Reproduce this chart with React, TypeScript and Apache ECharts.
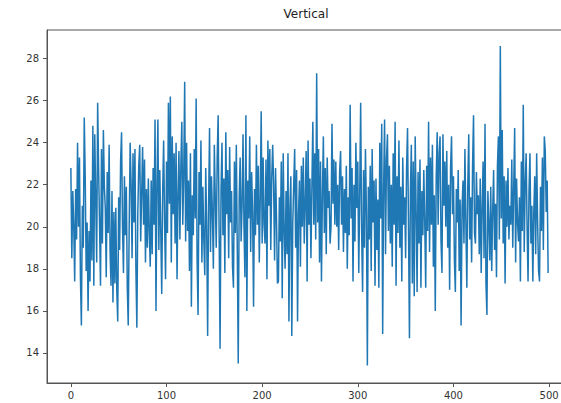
import React, { useEffect, useRef } from "react";
import * as echarts from "echarts";

const titleText = "Vertical";
const xTicks = [0, 100, 200, 300, 400, 500];
const yTicks = [14, 16, 18, 20, 22, 24, 26, 28];
const values = [
  22.8, 18.5, 21.7, 20.1, 17.4, 21.8, 19.4, 24.0, 20.0, 23.3,
  17.6, 15.3, 21.0, 19.0, 25.2, 22.4, 17.9, 20.2, 16.0, 19.8,
  17.4, 22.2, 18.4, 24.8, 17.2, 24.4, 21.3, 18.3, 25.9, 22.8,
  20.1, 17.2, 23.7, 19.2, 24.6, 21.9, 20.9, 17.6, 22.6, 19.7,
  23.9, 18.8, 17.2, 21.7, 16.4, 20.7, 17.3, 20.9, 17.0, 15.5,
  21.4, 18.9, 23.1, 24.5, 20.0, 17.8, 22.4, 19.6, 21.9, 17.1,
  15.3, 20.1, 24.0, 22.0, 18.5, 23.5, 20.2, 23.7, 18.0, 15.2,
  20.7, 22.9, 23.9, 19.3, 21.5, 23.8, 20.1, 23.2, 18.3, 21.8,
  19.0, 22.3, 19.8, 18.1, 22.2, 18.7, 22.8, 20.1, 25.1, 16.0,
  22.0, 25.1, 18.9, 22.7, 19.8, 16.8, 21.7, 24.1, 20.2, 17.5,
  23.1, 19.7, 25.9, 21.1, 26.2, 18.3, 24.3, 20.6, 23.5, 19.2,
  24.0, 17.5, 21.5, 23.6, 19.4, 22.9, 25.0, 20.1, 22.4, 26.9,
  19.3, 24.0, 19.8, 22.2, 17.9, 23.5, 16.2, 21.5, 19.6, 23.7,
  20.4, 26.1, 18.4, 15.8, 22.6, 20.1, 24.1, 18.3, 21.9, 19.4,
  17.7, 22.8, 20.0, 14.8, 21.0, 24.7, 18.8, 22.4, 20.7, 18.0,
  23.9, 21.3, 19.0, 23.3, 25.3, 19.8, 14.2, 21.8, 24.0, 19.6,
  22.3, 17.8, 24.5, 20.6, 22.7, 18.5, 23.8, 20.2, 21.7, 18.1,
  17.1, 23.1, 19.7, 23.9, 18.9, 13.5, 21.4, 23.3, 19.3, 21.0,
  24.4, 20.0, 17.6, 25.3, 16.0, 22.2, 20.4, 24.3, 18.8, 22.6,
  20.7, 16.2, 21.8, 19.6, 23.9, 20.1, 22.9, 18.3, 21.3, 25.5,
  19.2, 23.3, 20.1, 19.2, 23.2, 17.5, 24.1, 21.0, 23.7, 18.9,
  22.3, 23.9, 22.0, 18.4, 22.8, 20.4, 17.3, 17.4, 21.4, 19.3,
  23.1, 16.6, 23.5, 19.8, 18.0, 21.7, 18.7, 23.5, 15.5, 20.9,
  22.4, 14.8, 20.2, 22.0, 23.7, 19.0, 22.7, 15.5, 20.6, 22.2,
  18.1, 22.9, 20.0, 23.3, 19.2, 21.1, 23.6, 17.4, 24.1, 20.1,
  22.3, 18.5, 21.9, 25.0, 20.1, 23.5, 19.4, 27.3, 20.2, 23.7,
  18.3, 23.1, 17.4, 21.5, 24.3, 19.7, 22.8, 18.7, 23.3, 20.9,
  21.7, 19.2, 20.0, 24.9, 21.1, 23.2, 20.1, 23.1, 20.0, 22.0,
  18.9, 22.6, 23.6, 20.1, 22.4, 18.8, 21.8, 19.7, 22.9, 18.0,
  21.4, 19.6, 25.8, 20.4, 22.8, 17.4, 22.0, 19.3, 24.0, 20.9,
  23.1, 17.8, 21.5, 25.9, 19.8, 16.9, 22.7, 19.0, 23.7, 20.7,
  13.4, 21.9, 19.4, 22.9, 17.9, 23.7, 20.2, 22.2, 17.2, 22.3,
  18.9, 21.3, 17.1, 24.0, 20.4, 24.9, 14.9, 21.8, 25.1, 18.7,
  23.2, 24.4, 19.8, 22.9, 19.2, 22.0, 18.1, 23.5, 20.1, 25.0,
  17.2, 22.4, 19.7, 24.1, 19.0, 21.9, 17.4, 23.3, 20.1, 21.4,
  18.5, 22.8, 24.7, 20.0, 14.7, 21.7, 23.9, 17.3, 23.1, 16.7,
  24.3, 20.7, 16.9, 22.6, 19.2, 23.2, 17.1, 21.7, 19.6, 22.7,
  20.2, 17.1, 22.9, 19.8, 25.0, 18.8, 23.3, 20.1, 23.9, 18.1,
  21.5, 16.0, 22.4, 24.5, 20.1, 23.5, 24.3, 19.3, 17.8, 24.4,
  21.0, 23.1, 20.0, 23.6, 19.0, 22.0, 17.0, 22.8, 24.3, 20.6,
  22.4, 18.4, 16.9, 21.8, 20.2, 22.7, 17.9, 21.3, 15.3, 20.9,
  22.2, 19.2, 23.7, 20.1, 17.1, 22.0, 24.4, 19.4, 21.4, 18.3,
  22.9, 25.3, 19.7, 19.2, 22.6, 20.6, 21.5, 18.7, 22.3, 17.8,
  20.9, 23.1, 18.5, 24.9, 17.3, 15.8, 21.7, 20.2, 18.4, 21.9,
  17.9, 20.7, 22.7, 18.9, 21.1, 17.6, 22.9, 24.3, 19.4, 28.6,
  20.4, 24.6, 19.2, 22.4, 17.3, 22.2, 20.0, 22.8, 19.4, 21.0,
  20.1, 23.2, 19.0, 21.8, 24.7, 18.3, 22.3, 20.2, 19.3, 21.4,
  17.4, 23.1, 19.8, 25.8, 18.8, 22.0, 23.5, 20.0, 17.4, 21.7,
  23.5, 19.2, 21.0, 17.4, 20.7, 22.4, 18.7, 23.5, 20.2, 17.9,
  17.4, 21.9, 19.8, 23.3, 18.9, 24.3, 23.6, 20.7, 22.2, 17.8,
];

export default function App() {
  const ref = useRef<HTMLDivElement>(null);
  useEffect(() => {
    document.body.style.margin = "0";
    document.body.style.overflow = "hidden";
    const chart = echarts.init(ref.current!, null, { renderer: "svg" });
    const axisColor = "#555";
    const labelStyle = { color: "#333", fontSize: 10, fontFamily: "DejaVu Sans" };
    chart.setOption({
      animation: false,
      backgroundColor: "#fff",
      grid: {
        left: 47,
        top: 30,
        width: 525,
        height: 353,
        show: true,
        borderColor: axisColor,
        borderWidth: 1,
        backgroundColor: "transparent",
      },
      graphic: [
        {
          type: "text",
          x: 306,
          y: 14,
          style: {
            text: titleText,
            textAlign: "center",
            textVerticalAlign: "middle",
            fontSize: 12,
            fontFamily: "DejaVu Sans",
            fill: "#222",
          },
        },
      ],
      xAxis: {
        type: "value",
        min: -24.95,
        max: 523.95,
        axisLine: { show: true, onZero: false, lineStyle: { color: axisColor, width: 1 } },
        axisTick: { show: true, length: 4, customValues: xTicks, lineStyle: { color: axisColor } },
        axisLabel: { ...labelStyle, margin: 7, customValues: xTicks },
        splitLine: { show: false },
      },
      yAxis: {
        type: "value",
        min: 12.57,
        max: 29.36,
        axisLine: { show: true, onZero: false, lineStyle: { color: axisColor, width: 1 } },
        axisTick: { show: true, length: 4, customValues: yTicks, lineStyle: { color: axisColor } },
        axisLabel: { ...labelStyle, margin: 8, customValues: yTicks },
        splitLine: { show: false },
      },
      series: [
        {
          type: "line",
          data: values.map((v, i) => [i, v]),
          showSymbol: false,
          symbol: "none",
          lineStyle: { color: "#1f77b4", width: 1.5 },
          itemStyle: { color: "#1f77b4" },
        },
      ],
    });
    return () => chart.dispose();
  }, []);
  return (
    <div style={{ width: 561, height: 403, overflow: "hidden", position: "relative" }}>
      <div ref={ref} style={{ width: 600, height: 403 }} />
    </div>
  );
}
